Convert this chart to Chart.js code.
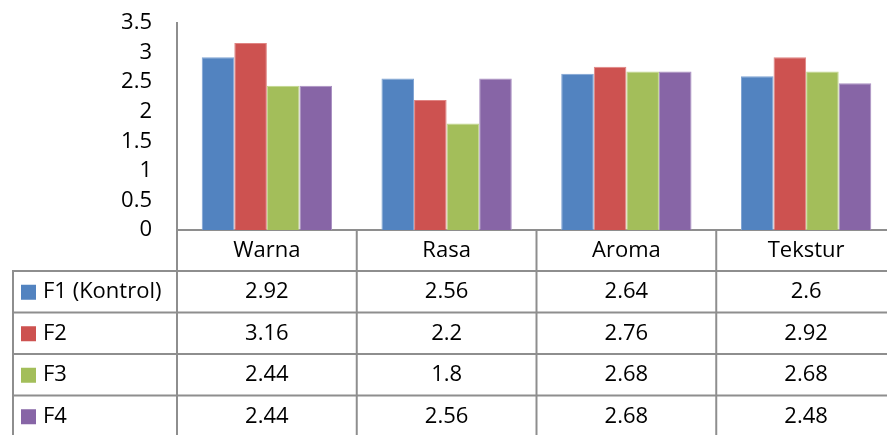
<!DOCTYPE html>
<html>
<head>
<meta charset="utf-8">
<script src="https://cdn.jsdelivr.net/npm/chart.js@4.4.1/dist/chart.umd.min.js"></script>
<style>
  html, body { margin: 0; padding: 0; background: #fff; overflow: hidden; }
  #wrap { width: 896px; height: 435px; }
</style>
</head>
<body>
<div id="wrap"><canvas id="chart" width="896" height="435"></canvas></div>
<script>
// données
const categories = ["Warna", "Rasa", "Aroma", "Tekstur"];
const seriesNames = ["F1 (Kontrol)", "F2", "F3", "F4"];
const f1 = [2.92, 2.56, 2.64, 2.6];
const f2 = [3.16, 2.2, 2.76, 2.92];
const f3 = [2.44, 1.8, 2.68, 2.68];
const f4 = [2.44, 2.56, 2.68, 2.48];
const yTicks = [0, 0.5, 1, 1.5, 2, 2.5, 3, 3.5];

const fillColors = ["#5283C0", "#CD5250", "#A3BE5A", "#8765A6"];
const edgeColors = ["#7FA3D3", "#E08482", "#C0D78A", "#AA90C2"];
const lineColor = "#8E8E8E";
const fontFamily = "'Open Sans', sans-serif";
const fontSize = 22;

const allSeries = [f1, f2, f3, f4];

// tableau de données sous l'axe (comme Excel)
const dataTable = {
  id: "dataTable",
  afterDraw(chart) {
    const ctx = chart.ctx;
    const x = chart.scales.x;
    const area = chart.chartArea;
    const half = (x.getPixelForValue(1) - x.getPixelForValue(0)) / 2;
    const top = area.bottom;
    const rowH = 41.5;
    const headerH = 41;
    const legendLeft = 12;
    const right = x.getPixelForValue(categories.length - 1) + half;
    const bottom = chart.height + 5;

    ctx.save();
    ctx.strokeStyle = lineColor;
    ctx.lineWidth = 2;

    // lignes horizontales
    for (let r = 0; r <= seriesNames.length; r++) {
      const y = top + headerH + r * rowH;
      ctx.beginPath();
      ctx.moveTo(legendLeft, y);
      ctx.lineTo(right, y);
      ctx.stroke();
    }
    // lignes verticales
    ctx.beginPath();
    ctx.moveTo(legendLeft + 1, top + headerH);
    ctx.lineTo(legendLeft + 1, bottom);
    ctx.stroke();
    for (let i = 0; i <= categories.length; i++) {
      const xx = x.getPixelForValue(i) - half;
      ctx.beginPath();
      ctx.moveTo(xx, top);
      ctx.lineTo(xx, bottom);
      ctx.stroke();
    }

    ctx.fillStyle = "#000";
    ctx.font = fontSize + "px " + fontFamily;
    ctx.textBaseline = "middle";
    ctx.textAlign = "center";
    categories.forEach((c, i) => {
      ctx.fillText(c, x.getPixelForValue(i), top + headerH / 2);
    });

    seriesNames.forEach((name, r) => {
      const yc = top + headerH + r * rowH + rowH / 2;
      ctx.fillStyle = fillColors[r];
      ctx.fillRect(21, yc - 7, 15, 15);
      ctx.fillStyle = "#000";
      ctx.textAlign = "left";
      ctx.fillText(name, 43, yc);
      ctx.textAlign = "center";
      allSeries[r].forEach((v, i) => {
        ctx.fillText(String(v), x.getPixelForValue(i), yc);
      });
    });
    ctx.restore();
  }
};

new Chart(document.getElementById("chart").getContext("2d"), {
  type: "bar",
  data: {
    labels: categories,
    datasets: seriesNames.map((name, i) => ({
      label: name,
      data: allSeries[i],
      backgroundColor: fillColors[i],
      borderColor: edgeColors[i],
      borderWidth: 1,
      categoryPercentage: 0.725,
      barPercentage: 1
    }))
  },
  options: {
    responsive: false,
    animation: false,
    layout: { padding: { top: 23, left: 0, right: 0, bottom: 0 } },
    plugins: {
      legend: { display: false },
      tooltip: { enabled: false }
    },
    scales: {
      x: {
        grid: { display: false },
        ticks: { display: false },
        border: { color: lineColor, width: 2 },
        afterFit(scale) { scale.height = 205; }
      },
      y: {
        min: 0,
        max: 3.5,
        afterBuildTicks(scale) { scale.ticks = yTicks.map(v => ({ value: v })); },
        grid: { display: false, drawTicks: false },
        border: { color: lineColor, width: 2 },
        ticks: {
          padding: 25,
          autoSkip: false,
          color: "#000",
          font: { family: fontFamily, size: fontSize, lineHeight: 1 },
          callback: v => String(v)
        },
        afterFit(scale) {
          scale.width = 177;
          scale.paddingTop = 0;
          scale.paddingBottom = 0;
        }
      }
    }
  },
  plugins: [dataTable]
});
</script>
</body>
</html>
